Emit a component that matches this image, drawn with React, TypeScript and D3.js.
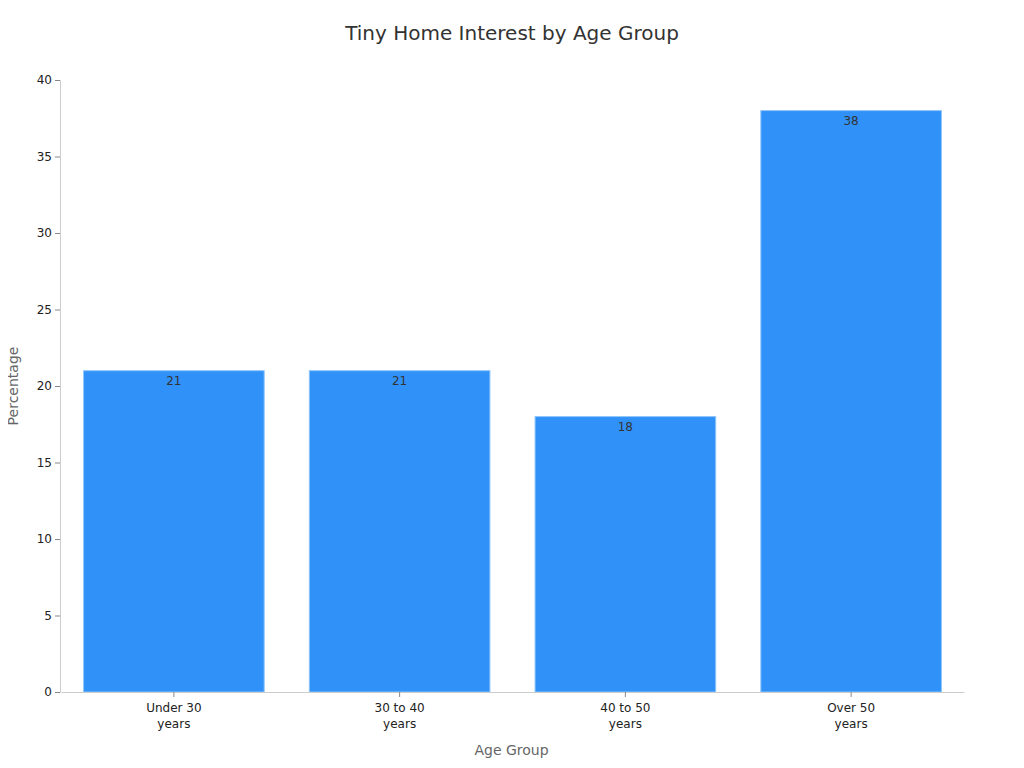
import React, { useEffect, useRef } from 'react';
import * as d3 from 'd3';

const categories = ['Under 30 years', '30 to 40 years', '40 to 50 years', 'Over 50 years'];
const values = [21, 21, 18, 38];
const yTicks = [0, 5, 10, 15, 20, 25, 30, 35, 40];

const App: React.FC = () => {
  const svgRef = useRef<SVGSVGElement>(null);

  useEffect(() => {
    if (!svgRef.current) return;
    const width = 1024;
    const height = 768;
    const margin = { top: 80, right: 61, bottom: 76, left: 60 };
    const innerWidth = width - margin.left - margin.right;
    const innerHeight = height - margin.top - margin.bottom;
    const font = 'DejaVu Sans, sans-serif';

    const svg = d3.select(svgRef.current);
    svg.selectAll('*').remove();

    const x = d3.scaleBand<string>()
      .domain(categories)
      .range([1, innerWidth + 1])
      .paddingInner(0.2)
      .paddingOuter(0.1);

    const y = d3.scaleLinear().domain([0, 40]).range([innerHeight, 0]);

    // Title
    svg.append('text')
      .attr('x', width / 2)
      .attr('y', 40)
      .attr('text-anchor', 'middle')
      .style('font-family', font)
      .style('font-size', '20px')
      .style('fill', '#333')
      .text('Tiny Home Interest by Age Group');

    const g = svg.append('g').attr('transform', `translate(${margin.left},${margin.top})`);

    // Bars
    g.selectAll('rect.bar')
      .data(values)
      .join('rect')
      .attr('class', 'bar')
      .attr('x', (_, i) => x(categories[i]) as number)
      .attr('y', d => y(d))
      .attr('width', x.bandwidth())
      .attr('height', d => innerHeight - y(d))
      .attr('fill', '#3092F8')
      .attr('stroke', '#8cc4fb')
      .attr('stroke-width', 1);

    // Value labels
    g.selectAll('text.val')
      .data(values)
      .join('text')
      .attr('class', 'val')
      .attr('x', (_, i) => (x(categories[i]) as number) + x.bandwidth() / 2)
      .attr('y', d => y(d) + 14)
      .attr('text-anchor', 'middle')
      .style('font-family', font)
      .style('font-size', '12px')
      .style('fill', '#333')
      .text(d => String(d));

    // Y axis
    const yAxis = g.append('g')
      .call(d3.axisLeft(y).tickValues(yTicks).tickSize(5).tickPadding(3));
    yAxis.select('.domain').attr('stroke', '#ccc');
    yAxis.selectAll('.tick line').attr('stroke', '#888');
    yAxis.selectAll('.tick text')
      .style('font-family', font)
      .style('font-size', '12px')
      .style('fill', '#222');

    // X axis
    const xAxis = g.append('g')
      .attr('transform', `translate(0,${innerHeight})`)
      .call(d3.axisBottom(x).tickSize(5).tickSizeOuter(0).tickPadding(6));
    xAxis.select('.domain').attr('stroke', '#ccc');
    xAxis.selectAll('.tick line').attr('stroke', '#888');
    xAxis.selectAll<SVGTextElement, string>('.tick text')
      .style('font-family', font)
      .style('font-size', '12px')
      .style('fill', '#222')
      .each(function (d) {
        const t = d3.select(this);
        t.text(null);
        const words = d.split(' ');
        const line1 = words.slice(0, -1).join(' ');
        const line2 = words[words.length - 1];
        t.append('tspan').attr('x', 0).attr('dy', '0.71em').text(line1);
        t.append('tspan').attr('x', 0).attr('dy', '1.35em').text(line2);
      });

    // Axis titles
    svg.append('text')
      .attr('x', margin.left + innerWidth / 2)
      .attr('y', 755)
      .attr('text-anchor', 'middle')
      .style('font-family', font)
      .style('font-size', '14px')
      .style('fill', '#666')
      .text('Age Group');

    svg.append('text')
      .attr('transform', `translate(18,${margin.top + innerHeight / 2}) rotate(-90)`)
      .attr('text-anchor', 'middle')
      .style('font-family', font)
      .style('font-size', '14px')
      .style('fill', '#666')
      .text('Percentage');
  }, []);

  return <svg ref={svgRef} width={1024} height={768} style={{ display: 'block', margin: -8 }} />;
};

export default App;
